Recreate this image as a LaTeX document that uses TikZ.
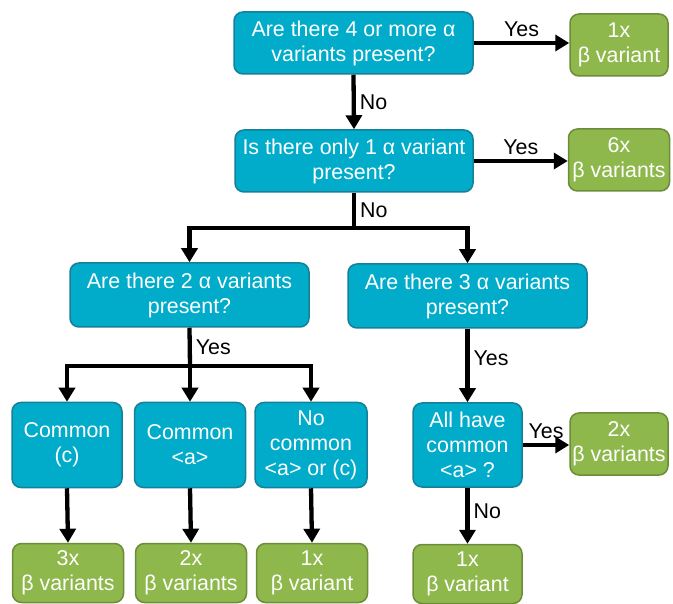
\documentclass[tikz,border=0pt]{standalone}
\usepackage{fontspec}
\setmainfont{Liberation Sans}
\usetikzlibrary{arrows.meta}
\definecolor{qblue}{RGB}{0,172,202}
\definecolor{qblueline}{RGB}{22,128,152}
\definecolor{agreen}{RGB}{142,184,76}
\definecolor{agreenline}{RGB}{108,140,58}
\tikzset{
   qbox/.style={draw=qblueline,fill=qblue,line width=1.5pt,rounded corners=9pt,
      text=white,align=center,inner sep=1pt,font=\fontsize{21.4}{25}\selectfont},
   abox/.style={draw=agreenline,fill=agreen,line width=1.5pt,rounded corners=9pt,
      text=white,align=center,inner sep=1pt,font=\fontsize{21.4}{25}\selectfont},
   arr/.style={-{Triangle[width=16pt,length=14pt]},line width=4.3pt,black},
   lbl/.style={font=\fontsize{21.4}{24}\selectfont,text=black,inner sep=4pt}
}
\begin{document}
\begin{tikzpicture}[x=1pt,y=-1pt]
   \useasboundingbox (0,0) rectangle (673,604);
   % questions
   \node[qbox,minimum width=239pt,minimum height=62pt] (q1) at (353.5,43) {Are there 4 or more α\\variants present?};
   \node[qbox,minimum width=238pt,minimum height=62pt] (q2) at (354,161) {Is there only 1 α variant\\present?};
   \node[qbox,minimum width=239pt,minimum height=64pt] (q3) at (189.5,295) {Are there 2 α variants\\present?};
   \node[qbox,minimum width=239pt,minimum height=64pt] (q4) at (467.5,296) {Are there 3 α variants\\present?};
   \node[qbox,minimum width=110pt,minimum height=85pt] (ca) at (67,445) {Common\\(c)};
   \node[qbox,minimum width=111pt,minimum height=85pt] (cb) at (190,445) {Common\\<a>};
   \node[qbox,minimum width=112pt,minimum height=85pt] (cc) at (311,445) {No\\common\\<a> or (c)};
   \node[qbox,minimum width=109pt,minimum height=84pt] (q5) at (467.5,445) {All have\\common\\<a> ?};
   % answers
   \node[abox,minimum width=98pt,minimum height=62pt] (r1) at (619,45) {1x\\β variant};
   \node[abox,minimum width=101pt,minimum height=62pt] (r2) at (619,160) {6x\\β variants};
   \node[abox,minimum width=98pt,minimum height=62pt] (r5) at (619,444) {2x\\β variants};
   \node[abox,minimum width=111pt,minimum height=59pt] (ra) at (68,573) {3x\\β variants};
   \node[abox,minimum width=111pt,minimum height=59pt] (rb) at (191,573) {2x\\β variants};
   \node[abox,minimum width=111pt,minimum height=59pt] (rc) at (312,573) {1x\\β variant};
   \node[abox,minimum width=109pt,minimum height=59pt] (rd) at (467.5,574) {1x\\β variant};
   % connectors
   \coordinate (j1) at (354,228);
   \coordinate (j2) at (190,366);
   \draw[arr] (q1.east) -- (q1.east -| r1.west) node[lbl,midway,above]{Yes};
   \draw[arr] (q1.south) -- (q2.north) node[lbl,midway,right]{No};
   \draw[arr] (q2.east) -- (q2.east -| r2.west) node[lbl,midway,above]{Yes};
   \draw[line width=4.3pt] (q2.south) -- (j1) node[lbl,midway,right]{No};
   \draw[arr] (j1) -| (q3.north);
   \draw[arr] (j1) -| (q4.north);
   \draw[line width=4.3pt] (q3.south) -- (j2) node[lbl,midway,right]{Yes};
   \draw[arr] (j2) -| (ca.north);
   \draw[arr] (j2) -- (cb.north);
   \draw[arr] (j2) -| (cc.north);
   \foreach \a/\b in {ca/ra,cb/rb,cc/rc} {
      \draw[arr] (\a.south) -- (\b.north);
   }
   \draw[arr] (q4.south) -- (q5.north) node[lbl,pos=0.4,right]{Yes};
   \draw[arr] (q5.east) -- (q5.east -| r5.west) node[lbl,midway,above]{Yes};
   \draw[arr] (q5.south) -- (rd.north) node[lbl,pos=0.42,right]{No};
\end{tikzpicture}
\end{document}
